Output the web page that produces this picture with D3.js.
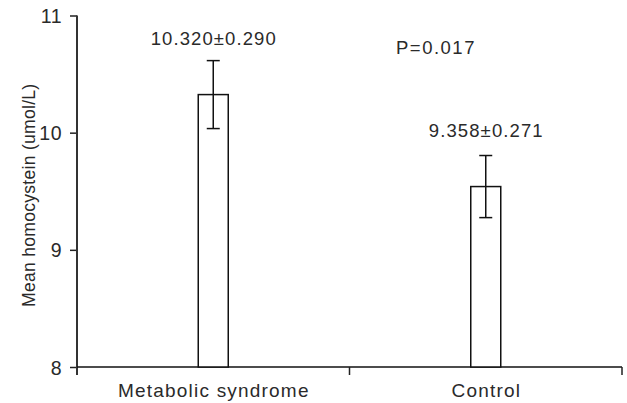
<!DOCTYPE html>
<html>
<head>
<meta charset="utf-8">
<script src="https://cdn.jsdelivr.net/npm/d3@7"></script>
<style>
  body { margin: 0; background: #fff; }
  svg text { font-family: "Liberation Sans", Arial, sans-serif; fill: #2a2a2a; }
</style>
</head>
<body>
<div id="chart"></div>
<script>
// values
const groups = ["Metabolic syndrome", "Control"];
const means = [10.325, 9.54];
const errors = [0.29, 0.265];
const meanLabels = ["10.320\u00b10.290", "9.358\u00b10.271"];
const yTicks = [8, 9, 10, 11];
const pLabel = "P=0.017";

const width = 627,
    height = 403;

const svg = d3.select("#chart")
    .append("svg")
    .attr("width", width)
    .attr("height", height);

const y = d3.scaleLinear().domain([8, 11]).range([367, 15.5]);
const x = d3.scaleBand().domain(groups).range([77, 622]).paddingInner(0).paddingOuter(0);
const barW = 30;

// y axis
const yAxis = svg.append("g")
    .attr("transform", "translate(77,0)")
    .call(d3.axisLeft(y).tickValues(yTicks).tickSize(7).tickPadding(8).tickFormat(d3.format("d")));
yAxis.select(".domain").remove();
yAxis.selectAll(".tick line").attr("stroke", "#222").attr("stroke-width", 1.5);
yAxis.selectAll(".tick text").style("font-size", "19.5px").style("letter-spacing", "0.5px").attr("dy", "0.36em");

svg.append("line")
    .attr("x1", 77).attr("x2", 77)
    .attr("y1", y(11)).attr("y2", y(8) + 8)
    .attr("stroke", "#333").attr("stroke-width", 2);

// x axis
svg.append("line")
    .attr("x1", x.range()[0]).attr("x2", x.range()[1])
    .attr("y1", y(8)).attr("y2", y(8))
    .attr("stroke", "#111").attr("stroke-width", 1.5);

svg.selectAll(".xtick")
    .data(groups)
    .enter().append("line")
    .attr("class", "xtick")
    .attr("x1", d => x(d) + x.bandwidth())
    .attr("x2", d => x(d) + x.bandwidth())
    .attr("y1", y(8)).attr("y2", y(8) + 8)
    .attr("stroke", "#222").attr("stroke-width", 1.5);

svg.selectAll(".xlabel")
    .data(groups)
    .enter().append("text")
    .attr("class", "xlabel")
    .attr("x", d => x(d) + x.bandwidth() / 2 + 0.6)
    .attr("y", 397)
    .attr("text-anchor", "middle")
    .style("font-size", "19px")
    .style("letter-spacing", "1.2px")
    .text(d => d);

// bars
svg.selectAll(".bar")
    .data(groups)
    .enter().append("rect")
    .attr("class", "bar")
    .attr("x", d => x(d) + x.bandwidth() / 2 - barW / 2)
    .attr("y", (d, i) => y(means[i]))
    .attr("width", barW)
    .attr("height", (d, i) => y(8) - y(means[i]))
    .attr("fill", "#fff")
    .attr("stroke", "#111")
    .attr("stroke-width", 1.5);

// error bars
const err = svg.append("g").attr("stroke", "#111").attr("stroke-width", 1.5);
groups.forEach((g, i) => {
    const cx = x(g) + x.bandwidth() / 2;
    err.append("line")
        .attr("x1", cx).attr("x2", cx)
        .attr("y1", y(means[i] + errors[i])).attr("y2", y(means[i] - errors[i]));
    [means[i] + errors[i], means[i] - errors[i]].forEach(v => {
        err.append("line")
            .attr("x1", cx - 6.5).attr("x2", cx + 6.5)
            .attr("y1", y(v)).attr("y2", y(v));
    });
    svg.append("text")
        .attr("x", cx + 0.5)
        .attr("y", y(means[i] + errors[i]) - 16 - i * 2.5)
        .attr("text-anchor", "middle")
        .style("font-size", "18.5px")
        .style("letter-spacing", "1.1px")
        .text(meanLabels[i]);
});

svg.append("text")
    .attr("x", 396)
    .attr("y", 54)
    .style("font-size", "18.5px")
    .style("letter-spacing", "1.5px")
    .text(pLabel);

// y axis title
svg.append("text")
    .attr("transform", "translate(35," + ((y(8) + y(11)) / 2 + 4) + ") rotate(-90)")
    .attr("text-anchor", "middle")
    .style("font-size", "17.5px")
    .style("letter-spacing", "0.3px")
    .text("Mean homocystein (umol/L)");
</script>
</body>
</html>
